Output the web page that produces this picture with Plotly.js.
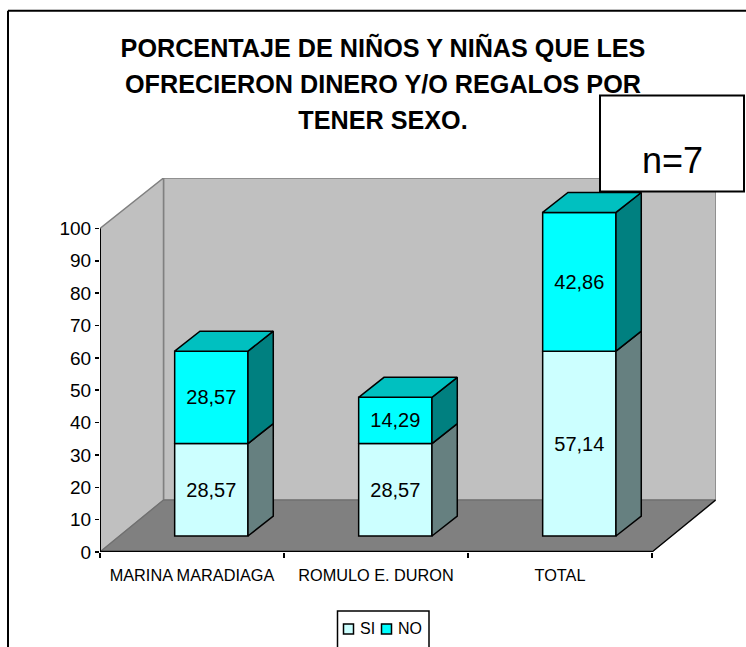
<!DOCTYPE html>
<html><head><meta charset="utf-8">
<script src="https://cdn.plot.ly/plotly-3.0.1.min.js"></script>
<style>html,body{margin:0;padding:0;background:#fff;overflow:hidden}#c{width:746px;height:647px}</style>
</head><body><div id="c"></div>
<script>
const categories = ["MARINA MARADIAGA", "ROMULO E. DURON", "TOTAL"];
const si = [28.57, 28.57, 57.14];
const no = [28.57, 14.29, 42.86];
const yTicks = [0,10,20,30,40,50,60,70,80,90,100];
const seriesNames = ["SI", "NO"];

// Page geometry (pixels) of the plot area
const W = 746, H = 647, L = 100, R = 716, T = 177.5, B = 552;
const pxPerCat = 184, pxPerUnit = 3.24;
const xMin = -0.5, xMax = xMin + (R - L) / pxPerCat;
const yMax = (B - T) / pxPerUnit;
const px = x => (x - L) / (R - L);
const py = y => (B - y) / (B - T);

// Pseudo-3D projection in data units
const wallDX = 63.5 / pxPerCat, wallDY = 52 / pxPerUnit;
const barOffX = 0.105, barW = 73.3 / pxPerCat, floorY = 16 / pxPerUnit;
const depthX = 25.3 / pxPerCat, depthY = 20 / pxPerUnit;
const idx = categories.map((_, i) => i);
const centers = idx.map(i => i + barOffX);
const fmt = v => v.toFixed(2).replace('.', ',');

const COL = {si:'#CCFFFF', no:'#00FFFF', siSide:'#668080', noSide:'#008080', noTop:'#00C0C0', wall:'#C0C0C0', floor:'#808080'};

function poly(xs, ys, fill) {
  return {type:'scatter', mode:'lines', x:xs.concat(xs[0]), y:ys.concat(ys[0]), fill:'toself', fillcolor:fill,
    line:{color:'#000', width:1.5}, showlegend:false, hoverinfo:'skip'};
}
function sideFace(i, y0, y1, fill) {
  const xr = centers[i] + barW/2;
  return poly([xr, xr+depthX, xr+depthX, xr], [y0, y0+depthY, y1+depthY, y1], fill);
}
function topFace(i, y, fill) {
  const xl = centers[i] - barW/2, xr = centers[i] + barW/2;
  return poly([xl, xr, xr+depthX, xl+depthX], [y, y, y+depthY, y+depthY], fill);
}
function polyPath(pts) { return 'M' + pts.map(p => p[0] + ',' + p[1]).join('L') + 'Z'; }

const data = [
  {type:'bar', name:seriesNames[0], x:centers, y:si, base:si.map(() => floorY), width:barW, marker:{color:COL.si, line:{color:'#000', width:1.5}},
   text:si.map(fmt), textposition:'inside', insidetextanchor:'middle', textangle:0, constraintext:'none', textfont:{size:20,color:'#000'}, hoverinfo:'skip', showlegend:false},
  {type:'bar', name:seriesNames[1], x:centers, y:no, base:si.map(v => floorY + v), width:barW, marker:{color:COL.no, line:{color:'#000', width:1.5}},
   text:no.map(fmt), textposition:'inside', insidetextanchor:'middle', textangle:0, constraintext:'none', textfont:{size:20,color:'#000'}, hoverinfo:'skip', showlegend:false}
];
idx.forEach(i => {
  data.push(sideFace(i, floorY, floorY + si[i], COL.siSide));
  data.push(sideFace(i, floorY + si[i], floorY + si[i] + no[i], COL.noSide));
  data.push(topFace(i, floorY + si[i] + no[i], COL.noTop));
});
const xEnd = xMin + categories.length;
data.push({type:'scatter', mode:'lines', x:[xMin, xMin], y:[0, 100], line:{color:'#000', width:2}, cliponaxis:false, showlegend:false, hoverinfo:'skip'});
data.push({type:'scatter', mode:'lines', x:[xMin, xEnd], y:[0, 0], line:{color:'#000', width:2.5}, cliponaxis:false, showlegend:false, hoverinfo:'skip'});
data.push({type:'scatter', mode:'lines', x:[xEnd, xEnd+wallDX], y:[0, wallDY], line:{color:'#000', width:1.2}, showlegend:false, hoverinfo:'skip'});

const backX = xMin + wallDX, backR = xMax, backTop = yMax;
const paperRect = (x0, y0, x1, y1, fill, width) => ({type:'rect', layer:'above', xref:'paper', yref:'paper', x0:px(x0), x1:px(x1), y0:py(y0), y1:py(y1), fillcolor:fill, line:{color:'#000', width:width}});
const shapes = [
  {type:'path', layer:'below', path:polyPath([[backX,wallDY],[backR,wallDY],[backR,backTop],[backX,backTop]]), fillcolor:COL.wall, line:{color:'#808080', width:1.5}},
  {type:'path', layer:'below', path:polyPath([[xMin,0],[backX,wallDY],[backX,backTop],[xMin,100]]), fillcolor:COL.wall, line:{color:'#808080', width:1.5}},
  {type:'path', layer:'below', path:polyPath([[xMin,0],[xEnd,0],[backR,wallDY],[backX,wallDY]]), fillcolor:COL.floor, line:{color:'#707070', width:1.2}},
  {type:'line', xref:'paper', yref:'paper', x0:px(8), x1:px(748), y0:py(10), y1:py(10), line:{color:'#000', width:2}},
  {type:'line', xref:'paper', yref:'paper', x0:px(8), x1:px(8), y0:py(10), y1:py(650), line:{color:'#000', width:2}},
  paperRect(600, 95, 744, 191, '#fff', 2),
  // legend box and swatches
  paperRect(337.5, 611, 429, 650, '#fff', 1.5),
  paperRect(343.5, 624, 353.5, 634, COL.si, 1.5),
  paperRect(381.5, 624, 391.5, 634, COL.no, 1.5)
];

const title = ["PORCENTAJE DE NIÑOS Y NIÑAS QUE LES", "OFRECIERON DINERO Y/O REGALOS POR", "TENER SEXO."]
  .map(s => '<span style="font-size:25.2px">' + s + '</span>').join('<br>');

const layout = {
  width:W, height:H, autosize:false, paper_bgcolor:'#fff', plot_bgcolor:'rgba(0,0,0,0)',
  margin:{l:L, r:W-R, t:T, b:H-B, autoexpand:false}, barmode:'overlay', separators:',.',
  font:{family:'"Liberation Sans", Arial, sans-serif', color:'#000'},
  title:{text:'<b>'+title+'</b>', font:{size:27.7, family:'"Liberation Sans", Arial, sans-serif', color:'#000'}, x:383/W, xanchor:'center', y:1-57/H, yanchor:'top', yref:'container'},
  xaxis:{type:'linear', range:[xMin, xMax], tickmode:'array', tickvals:idx, ticktext:categories, ticks:'', showgrid:false, zeroline:false, showline:false, tickfont:{size:16.3}, ticklabelstandoff:12},
  xaxis2:{type:'linear', overlaying:'x', anchor:'y', range:[xMin, xMax], side:'bottom', tickmode:'array', tickvals:[-0.5,0.5,1.5,2.5], ticktext:['','','',''], ticks:'outside', ticklen:5, tickwidth:1.5, tickcolor:'#000', showgrid:false, zeroline:false, showline:false},
  yaxis:{range:[0, yMax], tickmode:'array', tickvals:yTicks, ticktext:yTicks.map(String), ticks:'outside', ticklen:4, tickwidth:1.5, tickcolor:'#000', showgrid:false, zeroline:false, showline:false, tickfont:{size:19}},
  showlegend:false,
  shapes:shapes,
  annotations:[
    {xref:'paper', yref:'paper', x:px(672), y:py(160), xanchor:'center', yanchor:'middle', text:'n=7', showarrow:false, font:{size:36, color:'#000'}},
    {xref:'paper', yref:'paper', x:px(359), y:py(629), xanchor:'left', yanchor:'middle', text:seriesNames[0], showarrow:false, font:{size:16, color:'#000'}, borderpad:0},
    {xref:'paper', yref:'paper', x:px(397), y:py(629), xanchor:'left', yanchor:'middle', text:seriesNames[1], showarrow:false, font:{size:16, color:'#000'}, borderpad:0}
  ]
};
data.push({type:'scatter', mode:'lines', xaxis:'x2', x:[xMin], y:[0], showlegend:false, hoverinfo:'skip', line:{width:0}});
Plotly.newPlot('c', data, layout, {displayModeBar:false, staticPlot:true});
</script></body></html>
